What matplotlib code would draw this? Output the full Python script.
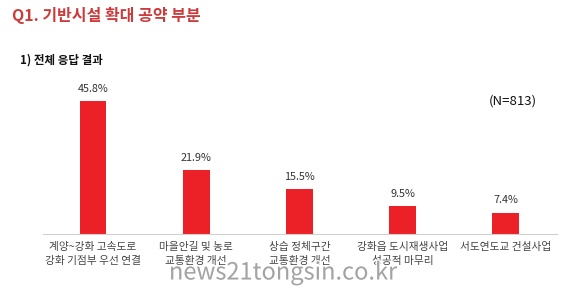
import matplotlib
matplotlib.use("Agg")
import matplotlib.pyplot as plt
import matplotlib.patheffects as pe

plt.rcParams['font.family'] = ['Noto Sans CJK KR', 'DejaVu Sans']

categories = ["계양~강화 고속도로\n강화 기점부 우선 연결",
              "마을안길 및 농로\n교통환경 개선",
              "상습 정체구간\n교통환경 개선",
              "강화읍 도시재생사업\n성공적 마무리",
              "서도연도교 건설사업"]
values = [45.8, 21.9, 15.5, 9.5, 7.4]
value_labels = ["45.8%", "21.9%", "15.5%", "9.5%", "7.4%"]

fig = plt.figure(figsize=(5.67, 2.91), dpi=100)
ax = fig.add_axes([43/567, (291-234)/291, (557-43)/567, 154/291])
x = list(range(len(categories)))
ax.bar(x, values, width=0.26, color="#ec2027", zorder=2)
ax.set_xlim(-0.484, 4.496)
ax.set_ylim(0, 53.1)
for s in ["top", "right", "left"]:
    ax.spines[s].set_visible(False)
ax.spines["bottom"].set_color("#d0d0d0")
ax.spines["bottom"].set_linewidth(0.8)
ax.set_yticks([])
ax.set_xticks(x)
ax.set_xticklabels(categories, fontsize=7.7, color="#444444", linespacing=1.45)
ax.tick_params(axis="x", length=0, pad=6)
for xi, v, lab in zip(x, values, value_labels):
    ax.text(xi, v + 2.6, lab, ha="center", va="bottom", fontsize=7.8, color="#333333")

fig.text(12/567, 1 - 15/291, "Q1. 기반시설 확대 공약 부분", fontsize=11.5, fontweight="bold",
         color="#cc3b3b", ha="left", va="center")
fig.text(20/567, 1 - 60/291, "1) 전체 응답 결과", fontsize=8.3, fontweight="bold",
         color="#111111", ha="left", va="center")
fig.text(537/567, 1 - 101/291, "(N=813)", fontsize=9.5, color="#111111",
         ha="right", va="center")
fig.text(283/567, 1 - 273/291, "news21tongsin.co.kr", fontsize=17, color="#9a9a9a",
         ha="center", va="center", alpha=0.9,
         path_effects=[pe.withStroke(linewidth=2, foreground="white")])

fig.savefig("out.png", dpi=100, facecolor="white")
